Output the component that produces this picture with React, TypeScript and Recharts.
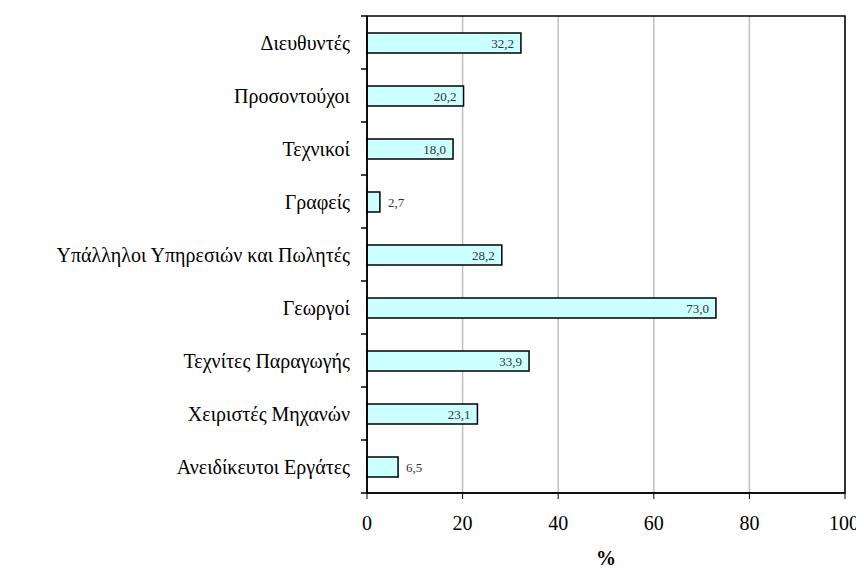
import { BarChart, Bar, XAxis, YAxis, CartesianGrid, LabelList, ReferenceArea, Label } from 'recharts';

const categories = [
  'Διευθυντές',
  'Προσοντούχοι',
  'Τεχνικοί',
  'Γραφείς',
  'Υπάλληλοι Υπηρεσιών και Πωλητές',
  'Γεωργοί',
  'Τεχνίτες Παραγωγής',
  'Χειριστές Μηχανών',
  'Ανειδίκευτοι Εργάτες',
];
const values = [32.2, 20.2, 18.0, 2.7, 28.2, 73.0, 33.9, 23.1, 6.5];
const xTicks = [0, 20, 40, 60, 80, 100];

const data = categories.map((name, i) => ({ name, value: values[i] }));

const FONT = 'Tinos, "Times New Roman", "Liberation Serif", serif';
const BAND = 477 / categories.length;

const fmt = (v: number) => v.toFixed(1).replace('.', ',');

function CategoryTick(props: any) {
  const { x, y, payload, index } = props;
  const axisX = x + 17;
  return (
    <g>
      <text x={x} y={y} dy="0.35em" textAnchor="end" style={{ fontFamily: FONT, fontSize: '20px' }} fill="#000">
        {payload.value}
      </text>
      <line x1={axisX - 6} x2={axisX} y1={y - BAND / 2} y2={y - BAND / 2} stroke="#000" strokeWidth={1.5} />
      {index === categories.length - 1 && (
        <line x1={axisX - 6} x2={axisX} y1={y + BAND / 2} y2={y + BAND / 2} stroke="#000" strokeWidth={1.5} />
      )}
    </g>
  );
}

function XTick(props: any) {
  const { x, y, payload } = props;
  return (
    <text x={x} y={y} dy="0.71em" textAnchor="middle" style={{ fontFamily: FONT, fontSize: '20px' }} fill="#000">
      {payload.value}
    </text>
  );
}

function ValueLabel(props: any) {
  const { x, y, width, height, value } = props;
  const outside = value < 10;
  return (
    <text
      x={outside ? x + width + 8 : x + width - 7}
      y={y + height / 2}
      dy="0.35em"
      textAnchor={outside ? 'start' : 'end'}
      style={{ fontFamily: FONT, fontSize: '13px' }}
      fill="#333"
    >
      {fmt(value)}
    </text>
  );
}

export default function App() {
  return (
    <BarChart
      width={848}
      height={562}
      data={data}
      layout="vertical"
      margin={{ top: 8, right: 11, bottom: 37, left: 0 }}
    >
      <CartesianGrid horizontal={false} stroke="#c0c0c0" strokeWidth={1.5} />
      <ReferenceArea x1={0} x2={100} fill="none" stroke="#000" strokeWidth={1.5} ifOverflow="visible" />
      <XAxis
        type="number"
        domain={[0, 100]}
        ticks={xTicks}
        height={40}
        tickSize={6}
        tickMargin={17}
        axisLine={{ stroke: '#000', strokeWidth: 1.5 }}
        tickLine={{ stroke: '#000' }}
        tick={<XTick />}
      >
        <Label
          value="%"
          position="bottom"
          offset={18}
          fill="#000"
          style={{ fontFamily: FONT, fontSize: '20px', fontWeight: 'bold' }}
        />
      </XAxis>
      <YAxis
        type="category"
        dataKey="name"
        width={359}
        tickLine={false}
        tickSize={0}
        tickMargin={17}
        axisLine={{ stroke: '#000', strokeWidth: 1.5 }}
        tick={<CategoryTick />}
        interval={0}
      />
      <Bar dataKey="value" barSize={20} fill="#ccffff" stroke="#000" strokeWidth={1.5} isAnimationActive={false}>
        <LabelList dataKey="value" content={<ValueLabel />} />
      </Bar>
    </BarChart>
  );
}
